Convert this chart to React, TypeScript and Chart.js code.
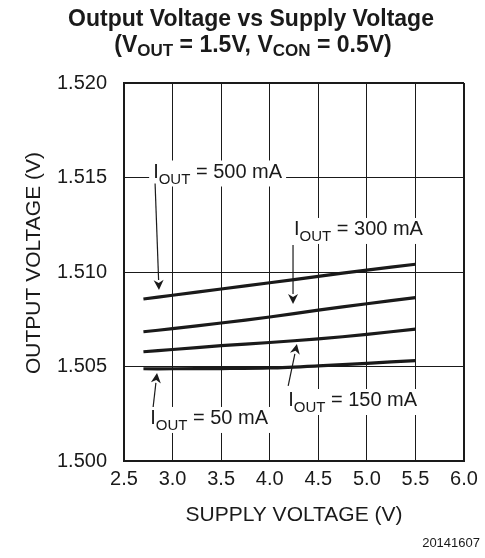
import { useEffect, useRef } from "react";
import { Chart, registerables } from "chart.js";

Chart.register(...registerables);

// Supply voltage sweep (V) and measured output voltage (V) per load current
const supplyVoltage = [2.7, 3.0, 3.5, 4.0, 4.5, 5.0, 5.5];
const vout500mA = [1.50857, 1.50877, 1.5091, 1.50943, 1.50977, 1.5101, 1.51041];
const vout300mA = [1.50684, 1.507, 1.5073, 1.50762, 1.50798, 1.50832, 1.50864];
const vout150mA = [1.50578, 1.5059, 1.5061, 1.50627, 1.50646, 1.5067, 1.50698];
const vout50mA = [1.50488, 1.50488, 1.50489, 1.50492, 1.50503, 1.50517, 1.50531];

const xTicks = [2.5, 3.0, 3.5, 4.0, 4.5, 5.0, 5.5, 6.0];
const yTicks = [1.5, 1.505, 1.51, 1.515, 1.52];

const loadCurrents = ["500 mA", "300 mA", "150 mA", "50 mA"];
const seriesValues = [vout500mA, vout300mA, vout150mA, vout50mA];

// Callout anchors in data units: label start/baseline, arrow tail and arrow tip
const calloutLabelX = [2.8, 4.25, 4.19, 2.77];
const calloutLabelY = [1.515, 1.51196, 1.50291, 1.50196];
const arrowTailX = [2.82, 4.24, 4.19, 2.8];
const arrowTailY = [1.51468, 1.51143, 1.50397, 1.50286];
const arrowTipX = [2.86, 4.24, 4.28, 2.84];
const arrowTipY = [1.50905, 1.50831, 1.50619, 1.50466];

const FONT = '"Liberation Sans", Arial, Helvetica, sans-serif';
const INK = "#1a1a1a";

type Run = { text: string; sub?: boolean };

function measureRuns(ctx: CanvasRenderingContext2D, runs: Run[], mainFont: string, subFont: string) {
  let w = 0;
  for (const r of runs) {
    ctx.font = r.sub ? subFont : mainFont;
    w += ctx.measureText(r.text).width;
  }
  return w;
}

function drawRuns(
  ctx: CanvasRenderingContext2D,
  runs: Run[],
  x: number,
  y: number,
  mainFont: string,
  subFont: string,
  drop: number
) {
  let cx = x;
  for (const r of runs) {
    ctx.font = r.sub ? subFont : mainFont;
    ctx.fillText(r.text, cx, r.sub ? y + drop : y);
    cx += ctx.measureText(r.text).width;
  }
  return cx - x;
}

function drawArrow(ctx: CanvasRenderingContext2D, x0: number, y0: number, x1: number, y1: number) {
  const ang = Math.atan2(y1 - y0, x1 - x0);
  const len = 10;
  const half = 5;
  const bx = x1 - Math.cos(ang) * len;
  const by = y1 - Math.sin(ang) * len;
  ctx.beginPath();
  ctx.moveTo(x0, y0);
  ctx.lineTo(bx, by);
  ctx.lineWidth = 1.2;
  ctx.strokeStyle = INK;
  ctx.stroke();
  ctx.beginPath();
  ctx.moveTo(x1, y1);
  ctx.lineTo(bx - Math.sin(ang) * half, by + Math.cos(ang) * half);
  ctx.lineTo(x1 - Math.cos(ang) * (len - 3), y1 - Math.sin(ang) * (len - 3));
  ctx.lineTo(bx + Math.sin(ang) * half, by - Math.cos(ang) * half);
  ctx.closePath();
  ctx.fillStyle = INK;
  ctx.fill();
}

const decorations = {
  id: "decorations",
  afterDatasetsDraw(chart: Chart) {
    const ctx = chart.ctx;
    const xs = chart.scales.x;
    const ys = chart.scales.y;
    ctx.save();
    ctx.textBaseline = "alphabetic";
    ctx.textAlign = "left";

    // Load-current callouts
    const mainFont = `20px ${FONT}`;
    const subFont = `15px ${FONT}`;
    loadCurrents.forEach((load, i) => {
      const runs: Run[] = [{ text: "I" }, { text: "OUT", sub: true }, { text: ` = ${load}` }];
      const lx = xs.getPixelForValue(calloutLabelX[i]);
      const ly = ys.getPixelForValue(calloutLabelY[i]);
      const w = measureRuns(ctx, runs, mainFont, subFont);
      ctx.fillStyle = "#ffffff";
      ctx.fillRect(lx - 4, ly - 17, w + 8, 26);
      ctx.fillStyle = INK;
      drawRuns(ctx, runs, lx, ly, mainFont, subFont, 6);
      drawArrow(
        ctx,
        xs.getPixelForValue(arrowTailX[i]),
        ys.getPixelForValue(arrowTailY[i]),
        xs.getPixelForValue(arrowTipX[i]),
        ys.getPixelForValue(arrowTipY[i])
      );
    });
    ctx.restore();
  },
  afterDraw(chart: Chart) {
    const ctx = chart.ctx;
    const ys = chart.scales.y;
    ctx.save();
    ctx.fillStyle = INK;

    // Heading, two lines
    ctx.textBaseline = "alphabetic";
    ctx.textAlign = "left";
    const hMain = `bold 23px ${FONT}`;
    const hSub = `bold 17px ${FONT}`;
    const line1: Run[] = [{ text: "Output Voltage vs Supply Voltage" }];
    const w1 = measureRuns(ctx, line1, hMain, hSub);
    drawRuns(ctx, line1, 251 - w1 / 2, 26, hMain, hSub, 4);
    const line2: Run[] = [
      { text: "(V" },
      { text: "OUT", sub: true },
      { text: " = 1.5V, V" },
      { text: "CON", sub: true },
      { text: " = 0.5V)" },
    ];
    const w2 = measureRuns(ctx, line2, hMain, hSub);
    drawRuns(ctx, line2, 253 - w2 / 2, 52, hMain, hSub, 4);

    // Vertical axis title
    ctx.font = `21px ${FONT}`;
    ctx.textAlign = "center";
    ctx.textBaseline = "middle";
    ctx.translate(34, (ys.top + ys.bottom) / 2 - 9);
    ctx.rotate(-Math.PI / 2);
    ctx.fillText("OUTPUT VOLTAGE (V)", 0, 0);
    ctx.setTransform(1, 0, 0, 1, 0, 0);

    // Figure number
    ctx.font = `13px ${FONT}`;
    ctx.textAlign = "right";
    ctx.textBaseline = "middle";
    ctx.fillText("20141607", 480, 543);
    ctx.restore();
  },
};

export default function App() {
  const canvasRef = useRef<HTMLCanvasElement | null>(null);

  useEffect(() => {
    const canvas = canvasRef.current;
    if (!canvas) return;

    const datasets = loadCurrents.map((load, i) => ({
      label: load,
      data: supplyVoltage.map((v, j) => ({ x: v, y: seriesValues[i][j] })),
      borderColor: INK,
      borderWidth: 3.2,
      pointRadius: 0,
      tension: 0.3,
      fill: false,
    }));

    const edgeWidth = (first: number, last: number) => (c: any) =>
      c.tick && (Math.abs(c.tick.value - first) < 1e-9 || Math.abs(c.tick.value - last) < 1e-9) ? 2 : 1;

    const chart = new Chart(canvas, {
      type: "line",
      data: { datasets },
      options: {
        animation: false,
        responsive: false,
        devicePixelRatio: 1,
        layout: { padding: { left: 0, top: 83, right: 21, bottom: 0 } },
        plugins: {
          legend: { display: false },
          title: { display: false },
          tooltip: { enabled: false },
        },
        scales: {
          x: {
            type: "linear",
            min: xTicks[0],
            max: xTicks[xTicks.length - 1],
            afterBuildTicks: (s: any) => {
              s.ticks = xTicks.map((v) => ({ value: v }));
            },
            afterFit: (s: any) => {
              s.height = 97;
            },
            grid: {
              color: INK,
              lineWidth: edgeWidth(xTicks[0], xTicks[xTicks.length - 1]),
              drawTicks: false,
            },
            border: { display: true, color: INK, width: 2 },
            ticks: {
              padding: 6,
              color: INK,
              font: { family: FONT, size: 20 },
              maxRotation: 0,
              autoSkip: false,
              callback: (v: any) => Number(v).toFixed(1),
            },
            title: {
              display: true,
              text: "SUPPLY VOLTAGE (V)",
              color: INK,
              font: { family: FONT, size: 21, weight: "normal" },
              padding: { top: 0, bottom: 30 },
            },
          },
          y: {
            type: "linear",
            min: yTicks[0],
            max: yTicks[yTicks.length - 1],
            afterBuildTicks: (s: any) => {
              s.ticks = yTicks.map((v) => ({ value: v }));
            },
            afterFit: (s: any) => {
              s.width = 124;
            },
            grid: {
              color: INK,
              lineWidth: edgeWidth(yTicks[0], yTicks[yTicks.length - 1]),
              drawTicks: false,
            },
            border: { display: true, color: INK, width: 2 },
            ticks: {
              padding: 17,
              color: INK,
              font: { family: FONT, size: 20 },
              autoSkip: false,
              callback: (v: any) => Number(v).toFixed(3),
            },
          },
        },
      },
      plugins: [decorations],
    });

    return () => chart.destroy();
  }, []);

  return (
    <div style={{ position: "absolute", left: 0, top: 0, width: 485, height: 558, background: "#fff" }}>
      <canvas ref={canvasRef} width={485} height={558} />
    </div>
  );
}
